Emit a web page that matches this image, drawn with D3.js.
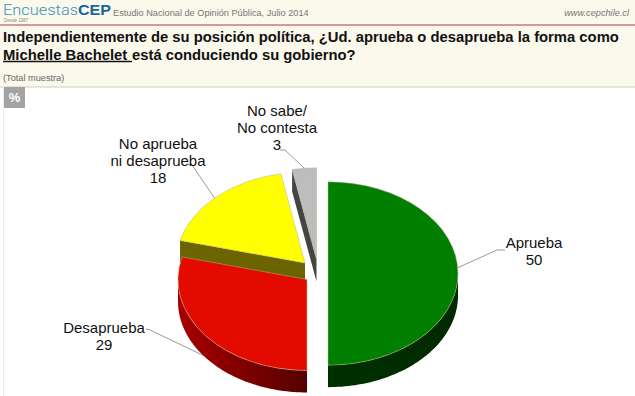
<!DOCTYPE html>
<html>
<head>
<meta charset="utf-8">
<script src="https://cdn.jsdelivr.net/npm/d3@7"></script>
<style>
  html, body { margin: 0; padding: 0; background: #fff; }
  text { font-family: "Liberation Sans", Arial, sans-serif; }
</style>
</head>
<body>
<div id="chart"></div>
<script>
const categories = ["Aprueba", "Desaprueba", "No aprueba ni desaprueba", "No sabe/ No contesta"];
const values = [50, 29, 18, 3];
const label_lines = [["Aprueba"], ["Desaprueba"], ["No aprueba", "ni desaprueba"], ["No sabe/", "No contesta"]];
const top_colors = ["#007f00", "#e30b00", "#ffff00", "#bdbdbd"];
const wall_colors = [["#003000", "#002a00"], ["#a80000", "#560000"], ["#6b6400", "#6b6400"], ["#444444", "#444444"]];

const title_lines = ["Independientemente de su posición política, ¿Ud. aprueba o desaprueba la forma como", "está conduciendo su gobierno?"];

const width = 635, height = 396;
const squash = 0.705, depth = 22;

// where each exploded slice sits, and where its label goes
const layout = [
    { cx: 328, cy: 273.5, r: 130, label: [534, 248], elbow: [497, 250], end: [505, 250], lead: 0.48, drop: 0 },
    { cx: 307, cy: 279.5, r: 129, label: [104, 333], elbow: [150, 330], end: [146, 329], lead: 0.514, drop: depth },
    { cx: 305, cy: 263, r: 129, label: [158, 149], elbow: [192, 165], end: [187, 164], lead: 0.48, drop: 0 },
    { cx: 316.5, cy: 259.5, r: 130, label: [277, 116], elbow: [285, 150], end: [280, 150], lead: 0.5, drop: 0 }
];

const svg = d3.select("#chart").append("svg").attr("width", width).attr("height", height)
    .attr("viewBox", `0 0 ${width} ${height}`).style("display", "block");

// header band
svg.append("rect").attr("width", width).attr("height", 87).attr("fill", "#fbf8ec");
svg.append("line").attr("x1", 0).attr("x2", width).attr("y1", 25).attr("y2", 25)
    .attr("stroke", "#b03a4a").attr("stroke-width", 1);
svg.append("line").attr("x1", 0).attr("x2", width).attr("y1", 87).attr("y2", 87)
    .attr("stroke", "#dddcd6").attr("stroke-width", 1.5);
svg.append("line").attr("x1", 3.5).attr("x2", 3.5).attr("y1", 87).attr("y2", height)
    .attr("stroke", "#ececec");

svg.append("text").attr("x", 3).attr("y", 15).attr("font-size", 15).attr("fill", "#3f8fb5")
    .style("font-family", "Roboto").attr("font-weight", 300)
    .attr("textLength", 75).attr("lengthAdjust", "spacingAndGlyphs").text("Encuestas");
svg.append("text").attr("x", 78).attr("y", 15).attr("font-size", 15.5).attr("fill", "#14679e")
    .attr("font-weight", 700).attr("textLength", 33).attr("lengthAdjust", "spacingAndGlyphs").text("CEP");
svg.append("text").attr("x", 4).attr("y", 22).attr("font-size", 4.5).attr("fill", "#888").text("Desde 1987");
svg.append("text").attr("x", 113).attr("y", 16).attr("font-size", 9.2).attr("fill", "#777")
    .text("Estudio Nacional de Opinión Pública, Julio 2014");
svg.append("text").attr("x", 629).attr("y", 16).attr("text-anchor", "end").attr("font-size", 9.2)
    .attr("font-style", "italic").attr("fill", "#777").text("www.cepchile.cl");

svg.append("text").attr("x", 3).attr("y", 41.5).attr("font-size", 14.8).attr("font-weight", 700)
    .attr("fill", "#111").text(title_lines[0]);
svg.append("text").attr("x", 3).attr("y", 59.5).attr("font-size", 14.8).attr("font-weight", 700)
    .attr("fill", "#111").text("Michelle Bachelet");
svg.append("line").attr("x1", 3).attr("x2", 132).attr("y1", 61.5).attr("y2", 61.5)
    .attr("stroke", "#111").attr("stroke-width", 1.3);
svg.append("text").attr("x", 132).attr("y", 59.5).attr("font-size", 14.8).attr("font-weight", 700)
    .attr("fill", "#111").text(title_lines[1]);
svg.append("text").attr("x", 3).attr("y", 81).attr("font-size", 9.2).attr("fill", "#666").text("(Total muestra)");

svg.append("rect").attr("x", 4).attr("y", 87).attr("width", 21).attr("height", 21).attr("fill", "#a3a3a3");
svg.append("text").attr("x", 14.5).attr("y", 102).attr("text-anchor", "middle").attr("font-size", 13)
    .attr("font-weight", 700).attr("fill", "#fff").text("%");

// pie
const pie = d3.pie().sort(null).value(d => d);
const arcs = pie(values);
const px = (i, a) => layout[i].cx + Math.sin(a) * layout[i].r;
const py = (i, a) => layout[i].cy - Math.cos(a) * layout[i].r * squash;

const defs = svg.append("defs");
wall_colors.forEach((c, i) => {
    const grad = defs.append("linearGradient").attr("id", `wall${i}`);
    grad.append("stop").attr("offset", "0%").attr("stop-color", c[0]);
    grad.append("stop").attr("offset", "100%").attr("stop-color", c[1]);
});

const line = d3.line();
const arc = d3.arc().innerRadius(0);
const plot = svg.append("g");

// back slices first so the front ones cover them
[3, 2, 1, 0].forEach(i => {
    const d = arcs[i];
    const g = plot.append("g").attr("class", "slice");

    // curved outer wall, only the part that faces the viewer
    const from = Math.max(d.startAngle, Math.PI / 2);
    const to = Math.min(d.endAngle, 3 * Math.PI / 2);
    if (to > from) {
        const steps = d3.range(0, 61).map(k => from + (to - from) * k / 60);
        const upper = steps.map(a => [px(i, a), py(i, a)]);
        const lower = steps.slice().reverse().map(a => [px(i, a), py(i, a) + depth]);
        g.append("path").attr("d", line(upper.concat(lower)) + "Z").attr("fill", `url(#wall${i})`);
    }

    // cut face on the side of the slice that looks to the front
    if (i >= 2) {
        const a = d.startAngle;
        const cut = [[layout[i].cx, layout[i].cy], [px(i, a), py(i, a)],
            [px(i, a), py(i, a) + depth], [layout[i].cx, layout[i].cy + depth]];
        g.append("path").attr("d", line(cut) + "Z").attr("fill", wall_colors[i][0]);
    }

    g.append("path")
        .attr("d", arc.outerRadius(layout[i].r)(d))
        .attr("transform", `translate(${layout[i].cx},${layout[i].cy}) scale(1,${squash})`)
        .attr("fill", top_colors[i])
        .attr("stroke", "#b8b08a").attr("stroke-width", 0.5).attr("vector-effect", "non-scaling-stroke");
});

// leader lines and labels
const labels = svg.append("g");
arcs.forEach((d, i) => {
    const p = layout[i];
    const a = d.startAngle + (d.endAngle - d.startAngle) * p.lead;
    labels.append("path")
        .attr("d", line([[px(i, a), py(i, a) + p.drop], p.elbow, p.end]))
        .attr("fill", "none").attr("stroke", "#808080").attr("stroke-width", 0.8);

    const rows = label_lines[i].concat(String(values[i]));
    labels.selectAll(null).data(rows).join("text")
        .attr("x", p.label[0]).attr("y", (_, k) => p.label[1] + k * 17)
        .attr("text-anchor", "middle").attr("font-size", 15).attr("fill", "#111")
        .text(t => t);
});
</script>
</body>
</html>
